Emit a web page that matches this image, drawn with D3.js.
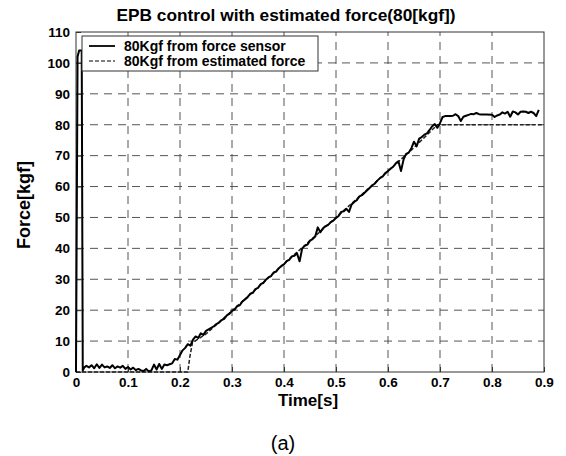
<!DOCTYPE html>
<html>
<head>
<meta charset="utf-8">
<script src="https://cdn.jsdelivr.net/npm/d3@7"></script>
<style>
  body { margin: 0; background: #fff; }
  text { font-family: "Liberation Sans", Arial, sans-serif; }
</style>
</head>
<body>
<div id="chart"></div>
<script>
const width = 566;
const height = 456;
const margin = { top: 32, right: 22, bottom: 84, left: 76 };

const xTicks = [0, 0.1, 0.2, 0.3, 0.4, 0.5, 0.6, 0.7, 0.8, 0.9];
const yTicks = [0, 10, 20, 30, 40, 50, 60, 70, 80, 90, 100, 110];

// force sensor [time, force]
const sensorT = [0, 0.003, 0.006, 0.011, 0.013, 0.016, 0.02, 0.025, 0.03, 0.035, 0.04, 0.045, 0.05, 0.055, 0.06, 0.065, 0.07, 0.075, 0.08, 0.085, 0.09, 0.095, 0.1, 0.105, 0.11, 0.115, 0.12, 0.125, 0.13, 0.135, 0.14, 0.145, 0.15, 0.155, 0.16, 0.165, 0.17, 0.175,
  0.18, 0.185, 0.19, 0.195, 0.2, 0.205, 0.21, 0.215, 0.22, 0.225, 0.23, 0.235, 0.24, 0.245, 0.25, 0.255, 0.26, 0.265, 0.27, 0.275, 0.28, 0.285, 0.29, 0.295,
  0.3, 0.305, 0.31, 0.315, 0.32, 0.325, 0.33, 0.335, 0.34, 0.345, 0.35, 0.355, 0.36, 0.365, 0.37, 0.375, 0.38, 0.385, 0.39, 0.395,
  0.4, 0.405, 0.41, 0.415, 0.42, 0.425, 0.43, 0.435, 0.44, 0.445, 0.45, 0.455, 0.46, 0.465, 0.47, 0.475, 0.48, 0.485, 0.49, 0.495,
  0.5, 0.505, 0.51, 0.515, 0.52, 0.525, 0.53, 0.535, 0.54, 0.545, 0.55, 0.555, 0.56, 0.565, 0.57, 0.575, 0.58, 0.585, 0.59, 0.595,
  0.6, 0.605, 0.61, 0.615, 0.62, 0.625, 0.63, 0.635, 0.64, 0.645, 0.65, 0.655, 0.66, 0.665, 0.67, 0.675, 0.68, 0.685, 0.69, 0.695,
  0.7, 0.705, 0.71, 0.72, 0.725, 0.73, 0.735, 0.74, 0.745, 0.75, 0.755, 0.76, 0.765, 0.77, 0.775, 0.78, 0.79,
  0.8, 0.805, 0.81, 0.815, 0.82, 0.825, 0.83, 0.835, 0.84, 0.845, 0.85, 0.855, 0.86, 0.865, 0.87, 0.875, 0.88, 0.885, 0.89];
const sensorF = [0, 102, 104, 104, 0.5, 1.5, 2, 1.5, 2.2, 1.2, 2.5, 1.3, 2.4, 1.5, 1.8, 1.3, 2.2, 1.2, 1.8, 1.4, 2.0, 1.0, 1.6, 0.8, 1.4, 0.6, 1.0, 0.5, 0.3, 1.0, 0.2, 0.5, 2.4, 0.8, 2.6, 1.0, 2.4, 2.2,
  2.5, 2.8, 4.2, 4.0, 5.5, 7.0, 7.8, 9.0, 8.5, 10.5, 11.5, 11.0, 12.5, 12.0, 13.3, 13.8, 14.3, 14.8, 15.5, 16.0, 16.8, 17.2, 18.3, 18.8,
  19.8, 20.2, 21.3, 21.6, 22.8, 23.5, 24.2, 25.3, 25.6, 26.8, 27.2, 28.4, 28.8, 29.8, 30.6, 31.0, 32.2, 32.5, 33.6, 34.3,
  34.8, 35.9, 36.3, 37.4, 37.6, 38.4, 35.8, 40.0, 40.8, 41.2, 42.5, 43.0, 43.8, 46.8, 45.2, 46.5, 47.2, 47.6, 48.5, 49.0,
  49.8, 50.5, 51.8, 52.0, 52.8, 51.8, 54.2, 55.0, 55.6, 56.8, 57.2, 58.0, 58.8, 59.6, 60.4, 61.0, 62.0, 62.8, 63.3, 64.4,
  65.0, 65.8, 66.4, 67.5, 68.2, 65.0, 68.8, 70.6, 71.0, 72.4, 74.5, 73.0, 75.5, 76.0, 76.8, 77.2, 78.3, 79.5, 80.2, 79.0,
  80.5, 82.5, 82.8, 82.8, 82.9, 83.4, 82.8, 81.2, 82.6, 82.9, 83.2, 83.5, 83.4, 83.8, 83.4, 83.3, 83.3,
  83.2, 82.5, 83.0, 83.3, 84.0, 83.6, 84.2, 82.6, 84.3, 84.0, 83.3, 84.2, 84.3, 84.2, 83.8, 84.2, 83.8, 82.8, 84.8];

// estimated force [time, force]
const estT = [0, 0.215, 0.219, 0.224, 0.25, 0.3, 0.35, 0.4, 0.45, 0.5, 0.55, 0.6, 0.65, 0.695, 0.7, 0.8, 0.9];
const estF = [0, 0, 5, 9.5, 12.3, 19.8, 27.4, 35.0, 42.5, 50.0, 57.5, 65.0, 72.6, 80, 80, 80, 80];

const sensor = sensorT.map((t, i) => [t, sensorF[i]]);
const estimated = estT.map((t, i) => [t, estF[i]]);

const svg = d3.select("#chart").append("svg")
  .attr("width", width)
  .attr("height", height);

const x = d3.scaleLinear().domain([0, 0.9]).range([margin.left, width - margin.right]);
const y = d3.scaleLinear().domain([0, 110]).range([height - margin.bottom, margin.top]);

// grid
svg.append("g")
  .selectAll("line.gx")
  .data(xTicks.slice(1, -1))
  .join("line")
  .attr("x1", d => x(d)).attr("x2", d => x(d))
  .attr("y1", y(0)).attr("y2", y(110))
  .attr("stroke", "#555").attr("stroke-width", 1).attr("stroke-dasharray", "8,6");
svg.append("g")
  .selectAll("line.gy")
  .data(yTicks.slice(1, -1))
  .join("line")
  .attr("x1", x(0)).attr("x2", x(0.9))
  .attr("y1", d => y(d)).attr("y2", d => y(d))
  .attr("stroke", "#555").attr("stroke-width", 1).attr("stroke-dasharray", "8,6");

// axes
const xAxis = svg.append("g")
  .attr("transform", `translate(0,${y(0)})`)
  .call(d3.axisBottom(x).tickValues(xTicks).tickSize(-5).tickPadding(5).tickFormat(d => d === 0 ? "0" : d3.format(".1f")(d)));
const yAxis = svg.append("g")
  .attr("transform", `translate(${x(0)},0)`)
  .call(d3.axisLeft(y).tickValues(yTicks).tickSize(-5).tickPadding(6));
[xAxis, yAxis].forEach(g => {
  g.select(".domain").remove();
  g.selectAll("text").attr("font-size", 13.5).attr("font-weight", "bold").attr("fill", "#000")
    .style("font-family", '"Liberation Sans", Arial, sans-serif');
  g.selectAll("line").attr("stroke", "#333");
});

// frame
svg.append("rect")
  .attr("x", x(0)).attr("y", y(110))
  .attr("width", x(0.9) - x(0)).attr("height", y(0) - y(110))
  .attr("fill", "none").attr("stroke", "#333").attr("stroke-width", 1);

const line = d3.line().x(d => x(d[0])).y(d => y(d[1]));

svg.append("path")
  .datum(estimated)
  .attr("d", line)
  .attr("fill", "none").attr("stroke", "#222").attr("stroke-width", 1.5).attr("stroke-dasharray", "4,2");

svg.append("path")
  .datum(sensor)
  .attr("d", line)
  .attr("fill", "none").attr("stroke", "#000").attr("stroke-width", 2).attr("stroke-linejoin", "round");

// legend
const lg = svg.append("g");
lg.append("rect")
  .attr("x", 82).attr("y", 36).attr("width", 236).attr("height", 35)
  .attr("fill", "#fff").attr("stroke", "#333");
const legendItems = [
  { label: "80Kgf from force sensor", dash: null, w: 1.8 },
  { label: "80Kgf from estimated force", dash: "4,2", w: 1.2 }
];
legendItems.forEach((d, i) => {
  const ly = 46 + i * 15;
  lg.append("line")
    .attr("x1", 89).attr("x2", 115).attr("y1", ly).attr("y2", ly)
    .attr("stroke", "#000").attr("stroke-width", d.w)
    .attr("stroke-dasharray", d.dash);
  lg.append("text")
    .attr("x", 124).attr("y", ly + 5)
    .attr("font-size", 14).attr("font-weight", "bold")
    .text(d.label);
});

// titles
svg.append("text")
  .attr("x", 286).attr("y", 21)
  .attr("text-anchor", "middle").attr("font-size", 17.3).attr("font-weight", "bold")
  .text("EPB control with estimated force(80[kgf])");

svg.append("text")
  .attr("transform", `translate(30,${(y(0) + y(110)) / 2 + 3}) rotate(-90)`)
  .attr("text-anchor", "middle").attr("font-size", 18).attr("font-weight", "bold")
  .text("Force[kgf]");

svg.append("text")
  .attr("x", 308).attr("y", 406)
  .attr("text-anchor", "middle").attr("font-size", 17).attr("font-weight", "bold")
  .text("Time[s]");

svg.append("text")
  .attr("x", 283).attr("y", 450)
  .attr("text-anchor", "middle").attr("font-size", 20)
  .text("(a)");
</script>
</body>
</html>
